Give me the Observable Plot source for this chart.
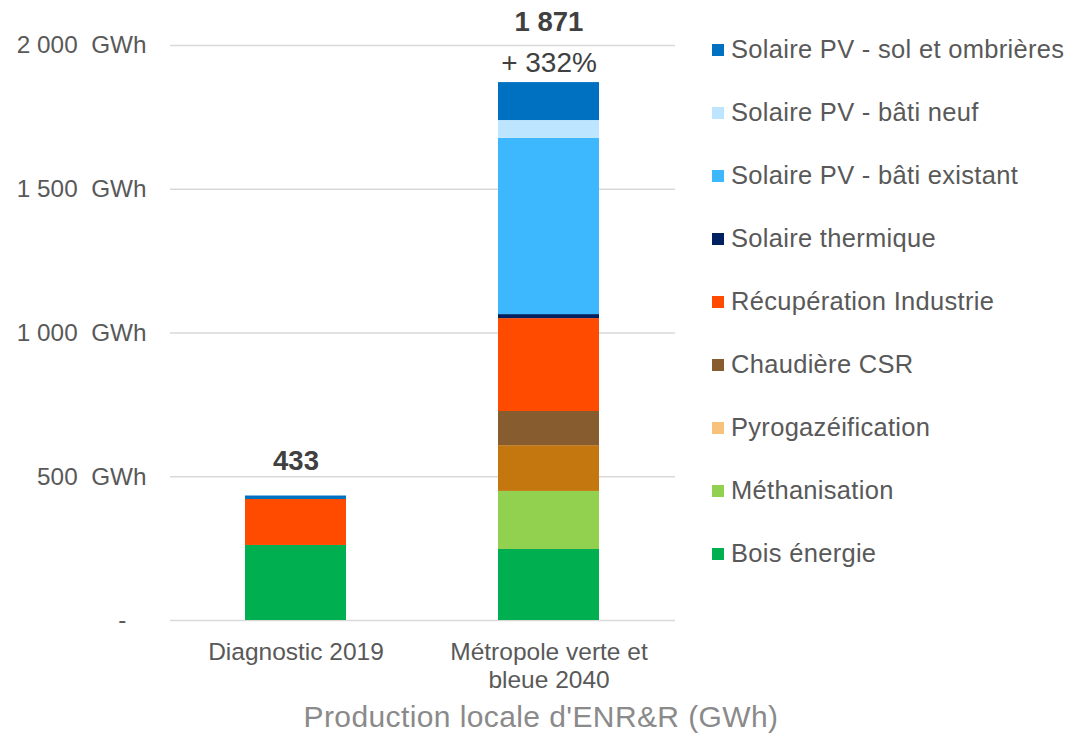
<!DOCTYPE html>
<html>
<head>
<meta charset="utf-8">
<script src="https://cdn.jsdelivr.net/npm/d3@7"></script>
<script src="https://cdn.jsdelivr.net/npm/@observablehq/plot@0.6"></script>
<style>
  html, body { margin: 0; padding: 0; background: #fff; }
  #wrap { position: relative; width: 1068px; height: 733px; font-family: "Liberation Sans", Arial, sans-serif; overflow: hidden; }
  #chart { position: absolute; left: 0; top: 0; }
  #title { position: absolute; left: 0; width: 1082px; top: 699px; text-align: center; font-size: 30px; letter-spacing: 0.4px; color: #8a8a8a; line-height: 36px; }
  #legend { position: absolute; left: 712px; top: 18px; }
  .item { height: 63px; display: flex; align-items: center; font-size: 25.5px; letter-spacing: 0.3px; color: #595959; white-space: nowrap; }
  .sw { width: 12px; height: 12px; margin-right: 7px; flex: none; }
</style>
</head>
<body>
<div id="wrap">
  <div id="chart"></div>
  <div id="legend"></div>
  <div id="title">Production locale d'ENR&amp;R (GWh)</div>
</div>
<script>
// ---- data ----
const categories = ["Diagnostic 2019", "Métropole verte et bleue 2040"];
const categoryLabels = ["Diagnostic 2019", "Métropole verte et\nbleue 2040"];
const series = [
  "Bois énergie",
  "Méthanisation",
  "Pyrogazéification",
  "Chaudière CSR",
  "Récupération Industrie",
  "Solaire thermique",
  "Solaire PV - bâti existant",
  "Solaire PV - bâti neuf",
  "Solaire PV - sol et ombrières"
];
const diagnostic2019 = [261, 0, 0, 0, 160, 0, 0, 0, 12];
const metropole2040 = [247, 202, 159, 119, 323, 14, 613, 62, 132];
const barColors = ["#00b050", "#92d050", "#c4760f", "#875c2e", "#ff4b00", "#002060", "#3db8ff", "#bde5ff", "#0070c0"];
const legendColors = ["#00b050", "#92d050", "#f8c27a", "#875c2e", "#ff4b00", "#002060", "#3db8ff", "#bde5ff", "#0070c0"];
const totalLabels = ["433", "1 871"];
const growthLabels = ["", "+ 332%"];
const yTicks = [0, 500, 1000, 1500, 2000];

// ---- build table ----
const values = [diagnostic2019, metropole2040];
const rows = [];
categories.forEach((c, i) => series.forEach((s, j) => rows.push({category: c, series: s, value: values[i][j]})));
const totals = categories.map((c, i) => ({category: c, total: d3.sum(values[i]), label: totalLabels[i], growth: growthLabels[i]}));

const nb = "\u00a0";
const fmtY = d => d === 0 ? "-" + nb + nb + nb : d3.format(",")(d).replace(/,/g, nb) + nb + nb + "GWh";

const chart = Plot.plot({
  width: 700,
  height: 700,
  marginLeft: 170,
  marginRight: 25,
  marginTop: 45,
  marginBottom: 80,
  style: {fontFamily: "Liberation Sans, Arial, sans-serif", background: "transparent"},
  x: {domain: categories, paddingInner: 0.6, paddingOuter: 0.298, label: null},
  y: {domain: [0, 2000], label: null},
  color: {domain: series, range: barColors},
  marks: [
    Plot.ruleY(yTicks, {stroke: "#d9d9d9", strokeWidth: 1.5}),
    Plot.barY(rows, Plot.stackY({order: series}, {x: "category", y: "value", fill: "series", z: "series"})),
    Plot.axisY({ticks: yTicks, tickFormat: fmtY, tickSize: 0, tickPadding: 24, fontSize: 24.3, fill: "#595959", label: null}),
    Plot.axisX({tickFormat: (d) => categoryLabels[categories.indexOf(d)], tickSize: 0, tickPadding: 19, fontSize: 24.5, fill: "#595959", lineHeight: 1.15, label: null}),
    Plot.text(totals.filter(d => d.growth === ""), {x: "category", y: "total", text: "label", dy: -35, fontSize: 27.5, fontWeight: "bold", fill: "#404040"}),
    Plot.text(totals.filter(d => d.growth !== ""), {x: "category", y: "total", text: "label", dy: -60, fontSize: 27.5, fontWeight: "bold", fill: "#404040"}),
    Plot.text(totals.filter(d => d.growth !== ""), {x: "category", y: "total", text: "growth", dy: -20, fontSize: 28, fill: "#404040"})
  ]
});
document.getElementById("chart").appendChild(chart);

// ---- legend ----
const legend = document.getElementById("legend");
series.map((s, j) => ({s, c: legendColors[j]})).reverse().forEach(({s, c}) => {
  const it = document.createElement("div");
  it.className = "item";
  const sw = document.createElement("span");
  sw.className = "sw";
  sw.style.background = c;
  it.appendChild(sw);
  it.appendChild(document.createTextNode(s));
  legend.appendChild(it);
});
</script>
</body>
</html>
